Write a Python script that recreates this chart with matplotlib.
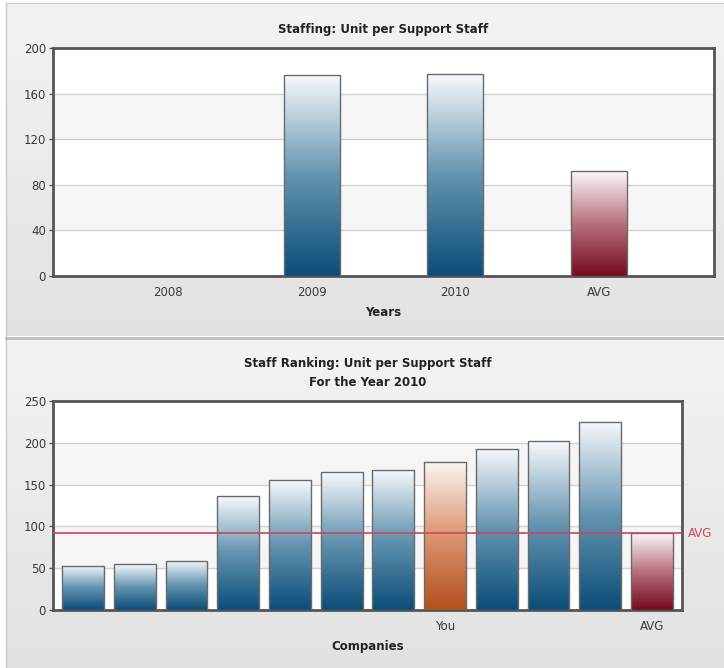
import numpy as np
import matplotlib.pyplot as plt
from matplotlib.colors import LinearSegmentedColormap

# data
years = ["2008", "2009", "2010", "AVG"]
year_vals = [0, 176, 177, 92]

company_vals = [53, 55, 59, 136, 155, 165, 168, 177, 193, 202, 225, 92]
company_ticks = {7: "You", 11: "AVG"}
avg_line = 92
you_idx = 7

blue = LinearSegmentedColormap.from_list("b", ["#0a4d78", "#6393b0", "#f7f9fb"])
red = LinearSegmentedColormap.from_list("r", ["#760a1c", "#b7707f", "#fcf7f9"])
orange = LinearSegmentedColormap.from_list("o", ["#b3501a", "#dc9470", "#fbf5f0"])

W, H = 724, 668
fig = plt.figure(figsize=(W / 100, H / 100), dpi=100)

# panel backgrounds
bg = fig.add_axes([0, 0, 1, 1], zorder=-10)
grad = np.linspace(0, 1, 200).reshape(-1, 1)
gcm = LinearSegmentedColormap.from_list("g", ["#f3f3f3", "#e2e2e2"])
bg.imshow(grad, cmap=gcm, extent=(6, W, 336, 3), aspect="auto")
bg.imshow(grad, cmap=gcm, extent=(6, W, H, 339), aspect="auto")
bg.plot([6, 6], [3, H], color="#c8c8c8", lw=1)
bg.plot([6, W], [3, 3], color="#d0d0d0", lw=1)
bg.plot([6, W], [337.5, 337.5], color="#bdbdbd", lw=2)
bg.set_xlim(0, W)
bg.set_ylim(H, 0)
bg.axis("off")


def px(x0, y0, x1, y1):
    return [x0 / W, 1 - y1 / H, (x1 - x0) / W, (y1 - y0) / H]


def grad_bars(ax, xs, vals, width, cmaps):
    g = np.linspace(0, 1, 256).reshape(-1, 1)
    for x, v, cm in zip(xs, vals, cmaps):
        if v <= 0:
            continue
        ax.imshow(g, cmap=cm, extent=(x - width / 2, x + width / 2, 0, v),
                  origin="lower", aspect="auto", zorder=3)
    ax.bar(xs, vals, width=width, facecolor="none", edgecolor="#6a6a6a",
           linewidth=1.0, zorder=4)


def style(ax, ymax, step):
    ticks = np.arange(0, ymax + 1, step)
    for i in range(len(ticks) - 1):
        ax.axhspan(ticks[i], ticks[i + 1],
                   color="white" if i % 2 == 0 else "#f5f5f5", zorder=0)
    for t in ticks[1:-1]:
        ax.axhline(t, color="#d2d2d2", lw=1, zorder=1)
    ax.set_ylim(0, ymax)
    ax.set_yticks(ticks)
    ax.tick_params(axis="y", length=3, width=1, color="#555555",
                   labelsize=8.5, labelcolor="#3a3a3a", pad=2)
    ax.tick_params(axis="x", length=0, labelsize=8.5, labelcolor="#3a3a3a", pad=7)
    for s in ax.spines.values():
        s.set_color("#555555")
        s.set_linewidth(2)


# top chart
ax1 = fig.add_axes(px(53, 48, 714, 276))
style(ax1, 200, 40)
x1 = np.arange(len(years))
grad_bars(ax1, x1, year_vals, 0.39, [blue, blue, blue, red])
ax1.set_xlim(-0.8, len(years) - 0.2)
ax1.set_xticks(x1)
ax1.set_xticklabels(years)
ax1.set_xlabel("Years", fontsize=8.5, fontweight="bold", color="#222222", labelpad=5)
ax1.set_title("Staffing: Unit per Support Staff", fontsize=8.5, fontweight="bold",
              color="#222222", pad=11)

# bottom chart
ax2 = fig.add_axes(px(53, 401, 682, 610))
style(ax2, 250, 50)
x2 = np.arange(len(company_vals))
cmaps = [blue] * len(company_vals)
cmaps[you_idx] = orange
cmaps[-1] = red
grad_bars(ax2, x2, company_vals, 0.81, cmaps)
ax2.set_xlim(-0.58, len(company_vals) - 0.42)
ax2.set_xticks(list(company_ticks.keys()))
ax2.set_xticklabels(list(company_ticks.values()))
ax2.axhline(avg_line, color="#c8485e", lw=1.2, zorder=5)
ax2.text(1.01, avg_line, "AVG", transform=ax2.get_yaxis_transform(), color="#c8485e",
         fontsize=8.5, va="center", ha="left")
ax2.set_xlabel("Companies", fontsize=8.5, fontweight="bold", color="#222222", labelpad=5)
ax2.set_title("Staff Ranking: Unit per Support Staff\nFor the Year 2010", fontsize=8.5,
              fontweight="bold", color="#222222", pad=11, linespacing=1.6)

fig.savefig("out.png", dpi=100)
